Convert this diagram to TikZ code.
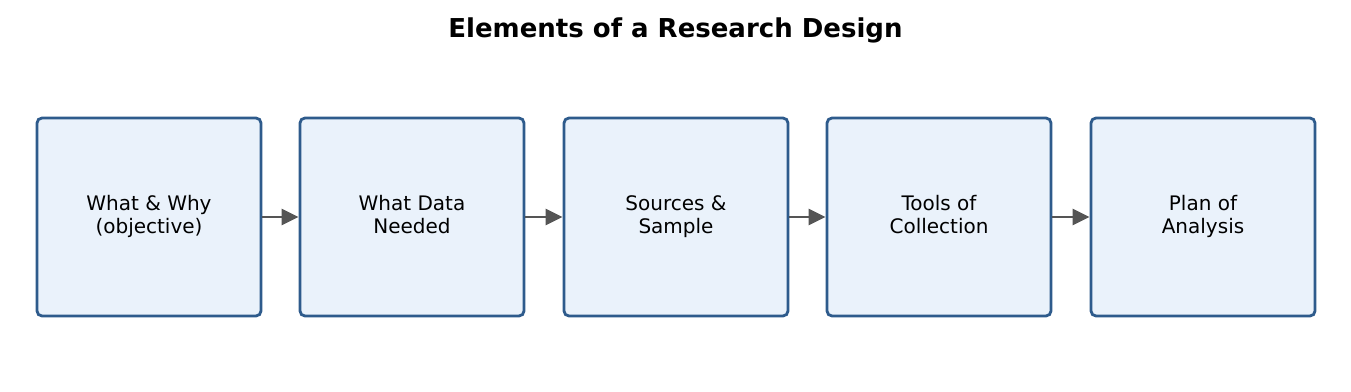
\documentclass[tikz,border=0pt]{standalone}
\usepackage{fontspec}
\setmainfont{DejaVu Sans}
\usetikzlibrary{positioning,arrows.meta}
\definecolor{stepblue}{HTML}{2E5B8C}
\definecolor{stepfill}{HTML}{EAF2FB}
\definecolor{arrowgray}{HTML}{555555}

\begin{document}
\begin{tikzpicture}[
    x=1pt, y=1pt,
    designBox/.style={rectangle, rounded corners=5pt, draw=stepblue, fill=stepfill, line width=2.8pt, minimum width=224pt, minimum height=198pt, align=center, font=\fontsize{20}{22.5}\selectfont, inner sep=0pt, execute at begin node={\rule{0pt}{19pt}}, execute at end node={\rule[-5pt]{0pt}{5pt}}},
    flowArrow/.style={-{Triangle[length=17pt, width=16pt]}, draw=arrowgray, fill=arrowgray, line width=2.8pt}
]
    \useasboundingbox (0,0) rectangle (1351,-391);

    \node[font=\fontsize{26}{30}\selectfont\bfseries] (title) at (675.5,-30) {Elements of a Research Design};

    \node[designBox] (b1) at (149,-217) {What \& Why\\(objective)};
    \node[designBox] (b2) at (412,-217) {What Data\\Needed};
    \node[designBox] (b3) at (676,-217) {Sources \&\\Sample};
    \node[designBox] (b4) at (939,-217) {Tools of\\Collection};
    \node[designBox] (b5) at (1203,-217) {Plan of\\Analysis};

    \draw[flowArrow] (b1) -- (b2);
    \draw[flowArrow] (b2) -- (b3);
    \draw[flowArrow] (b3) -- (b4);
    \draw[flowArrow] (b4) -- (b5);
\end{tikzpicture}
\end{document}
